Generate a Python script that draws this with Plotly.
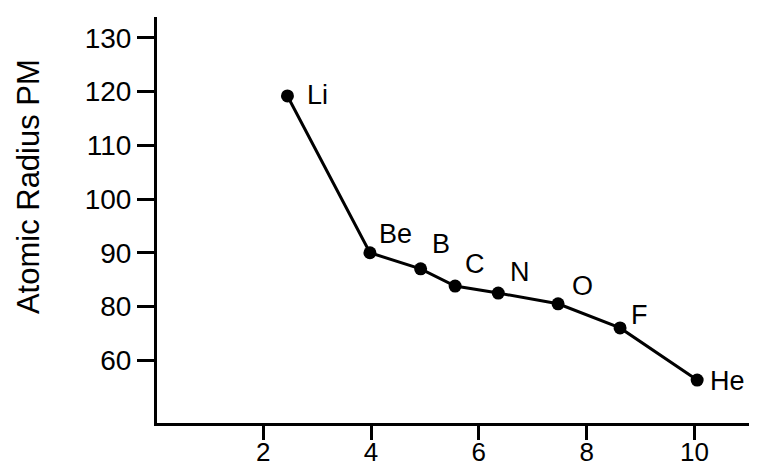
import plotly.graph_objects as go

# Data (y in the chart's drawn linear scale; the tick at 70 is labelled "60")
elements = ["Li", "Be", "B", "C", "N", "O", "F", "He"]
x_vals = [2.45, 3.98, 4.92, 5.56, 6.36, 7.47, 8.62, 10.05]
y_vals = [119.2, 90.0, 87.0, 83.8, 82.5, 80.5, 76.0, 66.3]

y_tickvals = [70, 80, 90, 100, 110, 120, 130]
y_ticktext = ["60", "80", "90", "100", "110", "120", "130"]
x_tickvals = [2, 4, 6, 8, 10]
y_title = "Atomic Radius PM"

# label offsets in pixels (styling)
label_shift = {
    "Li": (30, 1), "Be": (26, 19), "B": (20, 25), "C": (20, 22),
    "N": (22, 21), "O": (24, 18), "F": (19, 13), "He": (30, -1),
}

FONT = "Liberation Sans, Arial, Helvetica, sans-serif"

fig = go.Figure()
fig.add_trace(go.Scatter(
    x=x_vals, y=y_vals, mode="lines+markers",
    line=dict(color="black", width=3),
    marker=dict(color="black", size=13),
    showlegend=False, hoverinfo="skip",
))

for el, xv, yv in zip(elements, x_vals, y_vals):
    dx, dy = label_shift[el]
    fig.add_annotation(
        x=xv, y=yv, text=el, showarrow=False,
        xshift=dx, yshift=dy, xanchor="center", yanchor="middle",
        font=dict(family=FONT, size=27, color="black"),
    )

# y-axis title placed as a rotated annotation (sits above the axis centre in the reference)
fig.add_annotation(
    xref="paper", yref="paper", x=0, y=0.581, xshift=-129, text=y_title,
    textangle=-90, showarrow=False, xanchor="center", yanchor="middle",
    font=dict(family=FONT, size=31, color="black"),
)

# page body adds an 8px offset, margins compensate for it
fig.update_layout(
    width=757, height=469,
    margin=dict(l=149, r=8, t=9, b=54),
    paper_bgcolor="white", plot_bgcolor="white",
    font=dict(family=FONT, color="black"),
)
fig.update_xaxes(
    range=[0.03, 11.16], tickvals=x_tickvals, automargin=False,
    showline=True, linecolor="black", linewidth=3,
    ticks="outside", ticklen=14, tickwidth=2.5, tickcolor="black",
    ticklabelstandoff=-10,
    showgrid=False, zeroline=False,
    tickfont=dict(family=FONT, size=26, color="black"),
)
fig.update_yaxes(
    range=[58.3, 133.9], tickvals=y_tickvals, ticktext=y_ticktext, automargin=False,
    showline=True, linecolor="black", linewidth=3,
    ticks="outside", ticklen=17, tickwidth=2.5, tickcolor="black",
    showgrid=False, zeroline=False,
    tickfont=dict(family=FONT, size=28, color="black"),
)

fig.write_html("out.html")
